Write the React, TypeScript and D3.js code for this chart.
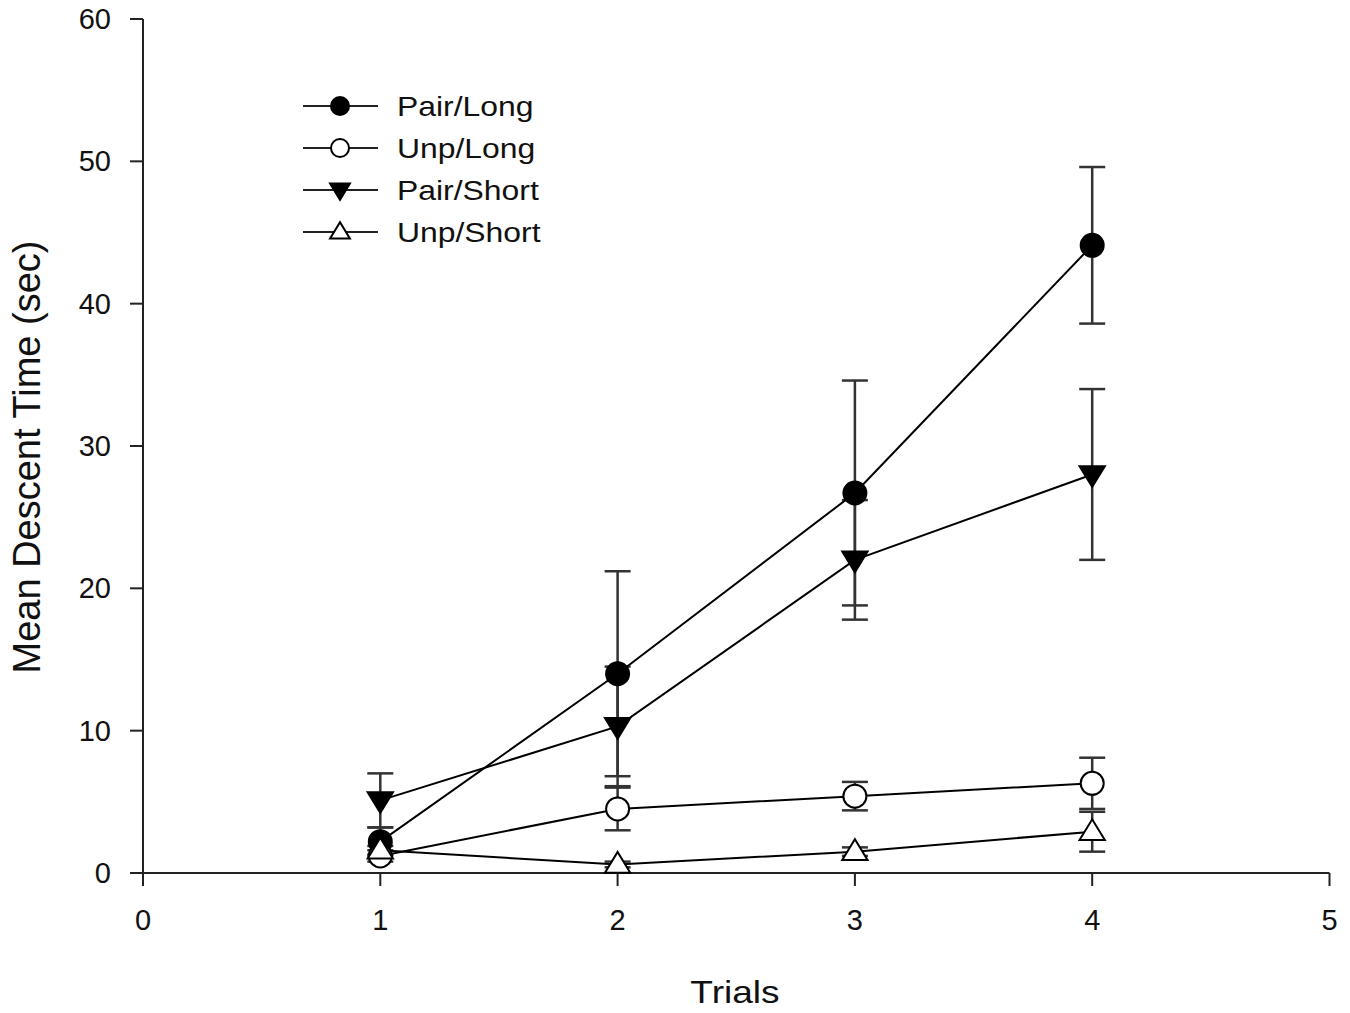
import React from "react";
import * as d3 from "d3";

const trials = [1, 2, 3, 4];
const pairLong = [2.2, 14.0, 26.7, 44.1];
const pairLongErr = [1.0, 7.2, 7.9, 5.5];
const unpLong = [1.2, 4.5, 5.4, 6.3];
const unpLongErr = [0.4, 1.5, 1.0, 1.8];
const pairShort = [5.1, 10.3, 22.0, 28.0];
const pairShortErr = [1.9, 4.2, 4.2, 6.0];
const unpShort = [1.6, 0.6, 1.5, 2.9];
const unpShortErr = [0.3, 0.2, 0.3, 1.4];
const xTicks = [0, 1, 2, 3, 4, 5];
const yTicks = [0, 10, 20, 30, 40, 50, 60];

type Kind = "filledCircle" | "openCircle" | "filledDown" | "openUp";
const series: { name: string; vals: number[]; err: number[]; kind: Kind }[] = [
  { name: "Pair/Long", vals: pairLong, err: pairLongErr, kind: "filledCircle" },
  { name: "Unp/Long", vals: unpLong, err: unpLongErr, kind: "openCircle" },
  { name: "Pair/Short", vals: pairShort, err: pairShortErr, kind: "filledDown" },
  { name: "Unp/Short", vals: unpShort, err: unpShortErr, kind: "openUp" },
];

const W = 1350;
const H = 1013;
const FONT = "'Liberation Sans', Arial, Helvetica, sans-serif";

function Marker({ kind, x, y, s }: { kind: Kind; x: number; y: number; s: number }) {
  const fill = kind === "filledCircle" || kind === "filledDown" ? "#000" : "#fff";
  if (kind === "filledCircle" || kind === "openCircle") {
    return <circle cx={x} cy={y} r={s} fill={fill} stroke="#000" strokeWidth={2} />;
  }
  const h = s * 1.8;
  const w = s * 1.1;
  if (kind === "filledDown") {
    const p = `M${x - w},${y - h * 0.4} L${x + w},${y - h * 0.4} L${x},${y + h * 0.6} Z`;
    return <path d={p} fill={fill} stroke="#000" strokeWidth={2} />;
  }
  const p = `M${x - w},${y + h * 0.4} L${x + w},${y + h * 0.4} L${x},${y - h * 0.6} Z`;
  return <path d={p} fill={fill} stroke="#000" strokeWidth={2} />;
}

export default function App() {
  const x = d3.scaleLinear().domain([0, 5]).range([143, 1329.5]);
  const y = d3.scaleLinear().domain([0, 60]).range([873, 19]);
  const line = d3
    .line<number>()
    .x((_, i) => x(trials[i]))
    .y((v) => y(v));
  const cap = 13;
  const legendRows = [106, 148, 190, 232];

  return (
    <svg
      width={W}
      height={H}
      style={{ position: "absolute", left: 0, top: 0, background: "#fff" }}
      fontFamily={FONT}
    >
      <rect width={W} height={H} fill="#fff" />
      {/* axes */}
      <line x1={x(0)} x2={x(0)} y1={y(60)} y2={y(0)} stroke="#222" strokeWidth={2} />
      <line x1={x(0)} x2={x(5)} y1={y(0)} y2={y(0)} stroke="#222" strokeWidth={2} />
      {yTicks.map((t) => (
        <g key={"y" + t}>
          <line x1={x(0) - 13} x2={x(0)} y1={y(t)} y2={y(t)} stroke="#222" strokeWidth={2} />
          <text x={111} y={y(t)} dy="0.35em" textAnchor="end" fontSize={29} fill="#111">
            {t}
          </text>
        </g>
      ))}
      {xTicks.map((t) => (
        <g key={"x" + t}>
          <line x1={x(t)} x2={x(t)} y1={y(0)} y2={y(0) + 13} stroke="#222" strokeWidth={2} />
          <text x={x(t)} y={920} dy="0.35em" textAnchor="middle" fontSize={29} fill="#111">
            {t}
          </text>
        </g>
      ))}
      <text
        transform={`translate(40,457) rotate(-90)`}
        textAnchor="middle"
        fontSize={38}
        fill="#111"
      >
        Mean Descent Time (sec)
      </text>
      <text
        transform={`translate(735,1003) scale(1.16,1)`}
        textAnchor="middle"
        fontSize={32}
        fill="#111"
      >
        Trials
      </text>

      {/* error bars */}
      {series.map((s) => (
        <g key={"e" + s.name}>
          {s.vals.map((v, i) => {
            const cx = x(trials[i]);
            const lo = y(v - s.err[i]);
            const hi = y(v + s.err[i]);
            return (
              <g key={i} stroke="#333" strokeWidth={2.5}>
                <line x1={cx} x2={cx} y1={lo} y2={hi} />
                <line x1={cx - cap} x2={cx + cap} y1={hi} y2={hi} />
                <line x1={cx - cap} x2={cx + cap} y1={lo} y2={lo} />
              </g>
            );
          })}
        </g>
      ))}
      {/* lines */}
      {series.map((s) => (
        <path key={"l" + s.name} d={line(s.vals) || ""} fill="none" stroke="#000" strokeWidth={2} />
      ))}
      {/* markers */}
      {series.map((s) => (
        <g key={"m" + s.name}>
          {s.vals.map((v, i) => (
            <Marker key={i} kind={s.kind} x={x(trials[i])} y={y(v)} s={11.5} />
          ))}
        </g>
      ))}

      {/* legend */}
      {series.map((s, i) => (
        <g key={"lg" + s.name}>
          <line x1={303} x2={378} y1={legendRows[i]} y2={legendRows[i]} stroke="#222" strokeWidth={2} />
          <Marker kind={s.kind} x={340} y={legendRows[i]} s={9} />
          <text
            transform={`translate(397,${legendRows[i] + 10}) scale(1.16,1)`}
            fontSize={27.5}
            fill="#111"
          >
            {s.name}
          </text>
        </g>
      ))}
    </svg>
  );
}
